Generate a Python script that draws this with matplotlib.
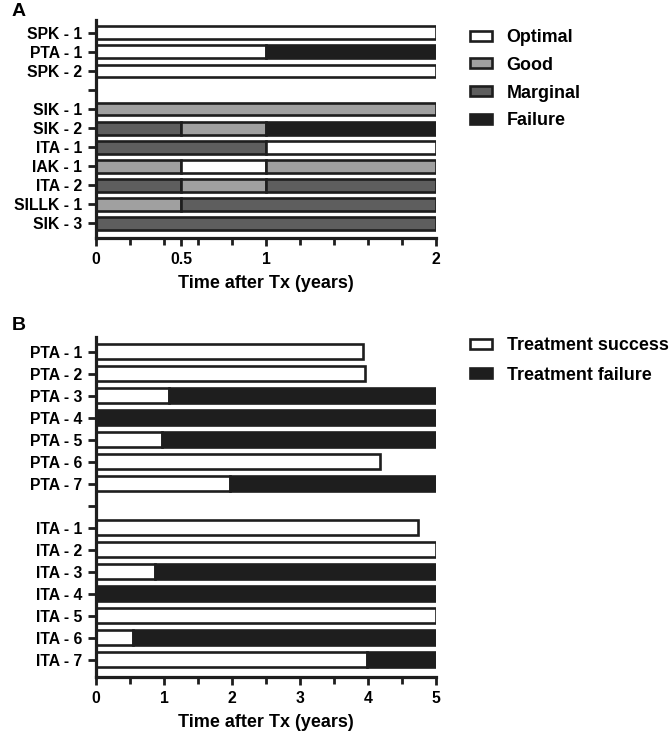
import numpy as np
import matplotlib.pyplot as plt
from matplotlib.patches import Patch
from matplotlib.ticker import FixedLocator

plt.rcParams["font.family"] = ["Liberation Sans", "DejaVu Sans"]
plt.rcParams["font.weight"] = "bold"
plt.rcParams["font.size"] = 11.3

# Panel A: graft function over 2 years (segments: status, start, end)
a_labels = ["SPK - 1", "PTA - 1", "SPK - 2", "", "SIK - 1", "SIK - 2",
            "ITA - 1", "IAK - 1", "ITA - 2", "SILLK - 1", "SIK - 3"]
a_segments = [
    [("Optimal", 0, 2)],
    [("Optimal", 0, 1), ("Failure", 1, 2)],
    [("Optimal", 0, 2)],
    [],
    [("Good", 0, 2)],
    [("Marginal", 0, 0.5), ("Good", 0.5, 1), ("Failure", 1, 2)],
    [("Marginal", 0, 1), ("Optimal", 1, 2)],
    [("Good", 0, 0.5), ("Optimal", 0.5, 1), ("Good", 1, 2)],
    [("Marginal", 0, 0.5), ("Good", 0.5, 1), ("Marginal", 1, 2)],
    [("Good", 0, 0.5), ("Marginal", 0.5, 2)],
    [("Marginal", 0, 2)],
]
a_status = ["Optimal", "Good", "Marginal", "Failure"]
a_ticks = [0, 0.5, 1, 2]
a_minor = [0.2, 0.4, 0.6, 0.8, 1.2, 1.4, 1.6, 1.8]

# Panel B: treatment outcome over 5 years
b_labels = ["PTA - 1", "PTA - 2", "PTA - 3", "PTA - 4", "PTA - 5", "PTA - 6",
            "PTA - 7", "", "ITA - 1", "ITA - 2", "ITA - 3", "ITA - 4",
            "ITA - 5", "ITA - 6", "ITA - 7"]
b_success = [3.92, 3.95, 1.07, 0, 0.97, 4.18, 1.97, None,
             4.74, 5.0, 0.87, 0, 5.0, 0.55, 3.98]
b_failure_end = [None, None, 5, 5, 5, None, 5, None,
                 None, None, 5, 5, None, 5, 5]
b_status = ["Treatment success", "Treatment failure"]
b_ticks = [0, 1, 2, 3, 4, 5]
b_minor = [0.5, 1.5, 2.5, 3.5, 4.5]

colors = {"Optimal": "white", "Good": "#a0a0a0", "Marginal": "#5e5e5e",
          "Failure": "#1e1e1e", "Treatment success": "white",
          "Treatment failure": "#1e1e1e"}
edge = "#1e1e1e"
bar_h = 0.68
lw = 1.9

fig = plt.figure(figsize=(6.71, 7.41), dpi=100)
ax_a = fig.add_axes([96 / 671, 1 - 238 / 741, 340 / 671, 218 / 741])
ax_b = fig.add_axes([96 / 671, 1 - 677 / 741, 340 / 671, 340 / 741])


def style_axis(ax, n, ticks, minor, xmax, labels):
    ax.set_xlim(0, xmax)
    ax.set_ylim(n - 1 + 0.78, -0.68)
    ax.set_yticks(np.arange(n))
    ax.set_yticklabels(labels)
    ax.set_xticks(ticks)
    ax.set_xticklabels([f"{t:g}" for t in ticks])
    ax.xaxis.set_minor_locator(FixedLocator(minor))
    for s in ["top", "right"]:
        ax.spines[s].set_visible(False)
    for s in ["left", "bottom"]:
        ax.spines[s].set_linewidth(2.3)
        ax.spines[s].set_color(edge)
    ax.tick_params(which="major", length=6, width=2, color=edge, pad=4)
    ax.tick_params(which="minor", length=5, width=2, color=edge)
    ax.set_xlabel("Time after Tx (years)", fontsize=13, fontweight="bold",
                  labelpad=6)


# Panel A bars
for i, segs in enumerate(a_segments):
    for status, start, end in segs:
        ax_a.barh(i, end - start, left=start, height=bar_h,
                  color=colors[status], edgecolor=edge, linewidth=lw)
style_axis(ax_a, len(a_labels), a_ticks, a_minor, 2, a_labels)

# Panel B bars
for i, (succ, fail) in enumerate(zip(b_success, b_failure_end)):
    if succ is None:
        continue
    if succ > 0:
        ax_b.barh(i, succ, left=0, height=bar_h, color=colors["Treatment success"],
                  edgecolor=edge, linewidth=lw)
    if fail is not None:
        ax_b.barh(i, fail - succ, left=succ, height=bar_h,
                  color=colors["Treatment failure"], edgecolor=edge, linewidth=lw)
style_axis(ax_b, len(b_labels), b_ticks, b_minor, 5, b_labels)

# Legends
leg_kw = dict(frameon=False, borderpad=0, borderaxespad=0, handlelength=1.25,
              handleheight=0.5, handletextpad=0.8, fontsize=12.9, loc="upper left")
fig.legend(handles=[Patch(facecolor=colors[s], edgecolor=edge, linewidth=lw, label=s)
                    for s in a_status],
           bbox_to_anchor=(470 / 671, 1 - 29 / 741), labelspacing=0.6, **leg_kw)
fig.legend(handles=[Patch(facecolor=colors[s], edgecolor=edge, linewidth=lw, label=s)
                    for s in b_status],
           bbox_to_anchor=(470 / 671, 1 - 337 / 741), labelspacing=0.7, **leg_kw)

fig.text(12 / 671, 1 - 12 / 741, "A", fontsize=14, fontweight="bold", va="center")
fig.text(12 / 671, 1 - 325 / 741, "B", fontsize=14, fontweight="bold", va="center")

fig.savefig("out.png", dpi=100)
